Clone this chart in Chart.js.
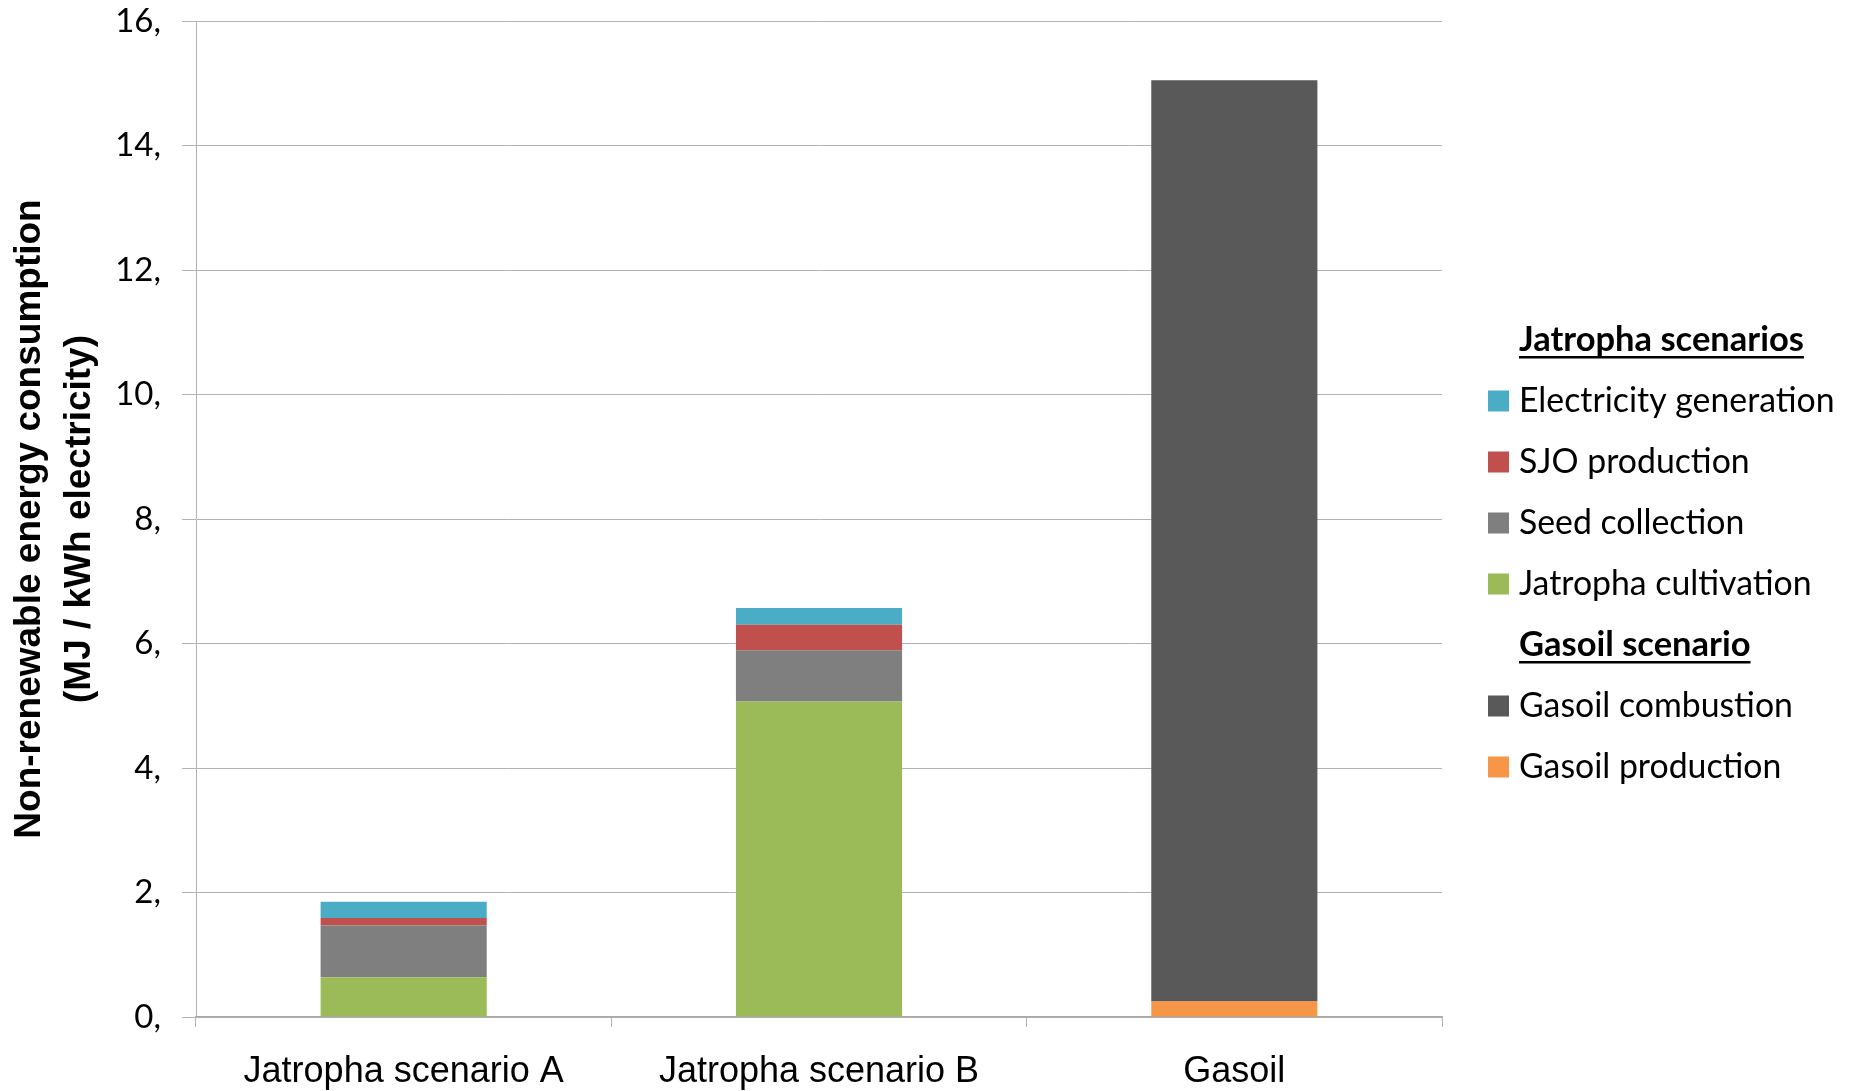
<!DOCTYPE html>
<html>
<head>
<meta charset="utf-8">
<script src="https://cdn.jsdelivr.net/npm/chart.js@4/dist/chart.umd.min.js"></script>
<style>
  html, body { margin: 0; padding: 0; background: #fff; }
  #wrap { position: relative; width: 1849px; height: 1091px; }
</style>
</head>
<body>
<div id="wrap"><canvas id="c" width="1849" height="1091"></canvas></div>
<script>
// Scenarios on the x axis
const categories = ['Jatropha scenario A', 'Jatropha scenario B', 'Gasoil'];

// Non-renewable energy use per stage (MJ / kWh electricity), stacked bottom to top
const jatrophaCultivation   = [0.64, 5.07, null];
const seedCollection        = [0.83, 0.82, null];
const sjoProduction         = [0.12, 0.41, null];
const electricityGeneration = [0.26, 0.27, null];
const gasoilProduction      = [null, null, 0.25];
const gasoilCombustion      = [null, null, 14.80];

// Value axis
const yTicks = [0, 2, 4, 6, 8, 10, 12, 14, 16];
const yTitle = ['Non-renewable energy consumption', '(MJ / kWh electricity)'];

// Legend groups (headers and the series listed under them)
const groupTitles = ['Jatropha scenarios', 'Gasoil scenario'];
const groupMembers = [
  ['Electricity generation', 'SJO production', 'Seed collection', 'Jatropha cultivation'],
  ['Gasoil combustion', 'Gasoil production']
];

const colors = {
  'Jatropha cultivation': '#9BBB59',
  'Seed collection': '#7F7F7F',
  'SJO production': '#C0504D',
  'Electricity generation': '#4BACC6',
  'Gasoil production': '#F79646',
  'Gasoil combustion': '#595959'
};

const series = [
  ['Jatropha cultivation', jatrophaCultivation],
  ['Seed collection', seedCollection],
  ['SJO production', sjoProduction],
  ['Electricity generation', electricityGeneration],
  ['Gasoil production', gasoilProduction],
  ['Gasoil combustion', gasoilCombustion]
];

const datasets = series.map(([label, data]) => ({
  label,
  data,
  backgroundColor: colors[label],
  borderWidth: 0,
  barPercentage: 0.4,
  categoryPercentage: 1.0
}));

const gridColor = '#b3b3b3';

// Grouped legend with underlined headers, drawn to the right of the plot
const groupLegend = {
  id: 'groupLegend',
  afterDraw(chart) {
    const ctx = chart.ctx;
    const area = chart.chartArea;
    const swatchX = area.right + 46;
    const textX = swatchX + 31;
    const box = 21;
    const step = 61;
    let y = 340;
    ctx.save();
    ctx.textBaseline = 'middle';
    groupTitles.forEach((title, gi) => {
      ctx.font = 'bold 34.5px Lato';
      ctx.fillStyle = '#000';
      ctx.fillText(title, textX, y);
      const w = ctx.measureText(title).width;
      ctx.fillRect(textX, y + 16, w, 2.5);
      y += step;
      ctx.font = '33.8px Lato';
      groupMembers[gi].forEach(name => {
        ctx.fillStyle = colors[name];
        ctx.fillRect(swatchX, y - box / 2, box, box);
        ctx.fillStyle = '#000';
        ctx.fillText(name, textX, y);
        y += step;
      });
    });
    ctx.restore();
  }
};

new Chart(document.getElementById('c'), {
  type: 'bar',
  data: { labels: categories, datasets },
  options: {
    responsive: false,
    animation: false,
    devicePixelRatio: 1,
    layout: { padding: { left: 0, right: 407, top: 0, bottom: 0 } },
    plugins: { legend: { display: false }, tooltip: { enabled: false } },
    scales: {
      x: {
        stacked: true,
        offset: true,
        grid: { offset: true, drawOnChartArea: false, drawTicks: true, tickLength: 10, color: gridColor, lineWidth: 1 },
        border: { display: true, color: '#a8a8a8', width: 1.5 },
        ticks: { color: '#000', padding: 23, font: { family: 'Liberation Sans', size: 36 } },
        afterFit(scale) { scale.height = 74; }
      },
      y: {
        stacked: true,
        min: 0,
        max: 16,
        afterBuildTicks(scale) { scale.ticks = yTicks.map(v => ({ value: v })); },
        ticks: {
          color: '#000',
          padding: 21,
          font: { family: 'Lato', size: 33, lineHeight: 0 },
          callback: v => v + ','
        },
        grid: { color: gridColor, lineWidth: 1, tickLength: 14 },
        border: { display: true, color: gridColor, width: 1 },
        title: {
          display: true,
          text: yTitle,
          color: '#000',
          padding: { top: 5, bottom: 0 },
          font: { family: 'Liberation Sans', size: 37, weight: 'bold', lineHeight: 1.35 }
        },
        afterFit(scale) { scale.width = 196; }
      }
    }
  },
  plugins: [groupLegend]
});
</script>
</body>
</html>
